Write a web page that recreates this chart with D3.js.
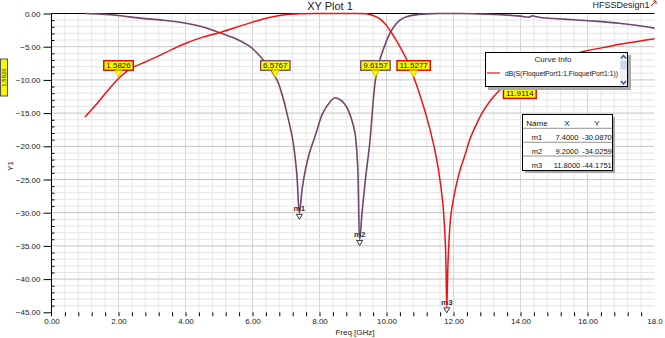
<!DOCTYPE html>
<html><head><meta charset="utf-8">
<script src="https://cdn.jsdelivr.net/npm/d3@7"></script>
<style>
html,body{margin:0;padding:0;background:#fff;}
svg{display:block;}
text{font-family:"Liberation Sans Narrow","Liberation Sans",Arial,sans-serif;}
</style></head><body>
<svg id="c" width="665" height="338"></svg>
<script>
// ---- data ----
const redFreq = [1.0,1.3,1.65,2.0,2.4,2.8,3.15,3.6,4.05,4.5,5.0,5.5,6.0,6.5,7.0,7.5,8.0,8.5,9.0,9.4,9.6,9.8,10.0,10.2,10.4,10.6,10.8,11.0,11.2,11.4,11.55,11.68,11.76,11.8,11.84,11.92,12.05,12.2,12.35,12.5,12.7,12.9,13.2,13.5,13.9,14.4,15.0,15.5,15.9,16.5,17.0,17.5,18.0];
const redDb = [-15.6,-13.9,-11.8,-9.8,-8.2,-7.3,-6.5,-5.4,-4.4,-3.6,-2.9,-2.1,-1.3,-0.6,-0.15,-0.02,0,0,0,-0.05,-0.3,-0.8,-1.8,-3.3,-5.0,-6.9,-9.4,-12.3,-15.6,-19.6,-23.5,-28.5,-35,-44.18,-37,-30.5,-26.6,-23.5,-21.2,-18.8,-16.5,-14.6,-12.5,-11.0,-9.4,-8.2,-7.0,-6.3,-5.7,-5.1,-4.6,-4.2,-3.8];
const purFreq = [1.0,1.5,2.0,2.65,3.3,3.93,4.5,5.03,5.5,5.93,6.2,6.5,6.73,6.9,7.05,7.2,7.32,7.4,7.48,7.58,7.7,7.9,8.08,8.3,8.46,8.65,8.8,8.95,9.06,9.14,9.2,9.27,9.37,9.5,9.67,9.8,9.95,10.1,10.25,10.4,10.6,10.8,11.2,11.6,12.2,13.0,13.5,14.0,14.25,14.35,14.45,14.6,15.0,15.6,16.2,17.0,17.5,18.0];
const purDb = [0,-0.1,-0.3,-0.7,-1.0,-1.4,-2.0,-2.9,-3.8,-5.0,-6.3,-8.2,-10,-12.5,-15.5,-19,-24,-30.09,-26.5,-23.5,-21,-18,-15.2,-13.4,-12.7,-13.1,-14,-15.8,-18,-23,-34.03,-30,-25,-19.5,-10,-7,-4.8,-3,-1.8,-1.0,-0.5,-0.25,-0.05,0,0,-0.1,-0.2,-0.4,-0.55,-0.35,-0.45,-0.6,-0.75,-0.95,-1.15,-1.5,-1.8,-2.2];

const xTicks = [0,2,4,6,8,10,12,14,16,18];
const yTicks = [0,-5,-10,-15,-20,-25,-30,-35,-40,-45];

// flag markers (yellow)
const flagText = ["1.5826","6.5767","9.6157","11.5277","11.9114"];
const flagFreq = [2.0,6.68,9.67,10.81,13.7];
const flagDb = [-9.6,-9.6,-9.6,-9.6,-10.9];
const flagSeries = ["red","pur","pur","red","red"];
const flagBelow = [false,false,false,false,true];

// m markers
const mName = ["m1","m2","m3"];
const mFreq = [7.4,9.2,11.8];
const mDb = [-30.0870,-34.0259,-44.1751];
const mXtxt = ["7.4000","9.2000","11.8000"];
const mYtxt = ["-30.0870","-34.0259","-44.1751"];

const legendLabel = "dB(S(FloquetPort1:1,FloquetPort1:1))";

// ---- drawing ----
const svg = d3.select("#c");
const x = d3.scaleLinear().domain([0,18]).range([51.5,654.5]);
const y = d3.scaleLinear().domain([-45,0]).range([312.3,13.5]);
const colRed = "#ee1212", colPur = "#74456a";

// grid
const g = svg.append("g");
const xMinor = d3.range(0.4,17.9,0.4);
const yMinor = d3.range(-1,-44.5,-1);
g.selectAll(".vx").data(xMinor).join("line")
  .attr("x1",d=>x(d)).attr("x2",d=>x(d)).attr("y1",y(0)).attr("y2",y(-45))
  .attr("stroke",d=>Math.abs(d/2-Math.round(d/2))<1e-6?"#d4d4d4":"#e6e6e6").attr("stroke-width",1);
g.selectAll(".hy").data(yMinor).join("line")
  .attr("x1",x(0)).attr("x2",x(18)).attr("y1",d=>y(d)).attr("y2",d=>y(d))
  .attr("stroke",d=>Math.abs(d%5)<1e-6?"#c4c4c4":"#e4e4e4").attr("stroke-width",1);

// top border
svg.append("line").attr("x1",x(0)).attr("x2",x(18)).attr("y1",y(0)).attr("y2",y(0)).attr("stroke","#000");

// y axis
const yAx = svg.append("g").attr("transform",`translate(${x(0)},0)`)
  .call(d3.axisLeft(y).tickValues(yTicks).tickSize(8).tickSizeOuter(0).tickPadding(3).tickFormat(d3.format(".2f")));
yAx.select(".domain").attr("stroke","#000").attr("d",`M0,${y(0)}V${y(-45)+4}`);
yAx.selectAll("text").attr("font-size",8).attr("fill","#222");
const yMin = svg.append("g").attr("transform",`translate(${x(0)},0)`)
  .call(d3.axisRight(y).tickValues(yMinor.filter(d=>d%5!==0)).tickSize(3).tickFormat(""));
yMin.select(".domain").remove();

// x axis
const xMinAx = svg.append("g").attr("transform",`translate(0,${y(-45)})`)
  .call(d3.axisBottom(x).tickValues(xMinor).tickSize(4).tickFormat(""));
xMinAx.select(".domain").remove();
const xAx = svg.append("g").attr("transform",`translate(0,${y(-45)})`)
  .call(d3.axisBottom(x).tickValues(xTicks).tickSize(0).tickPadding(6).tickFormat((d,i)=>i===xTicks.length-1?"18.0":d3.format(".2f")(d)));
xAx.select(".domain").remove();
xAx.selectAll("text").attr("font-size",8).attr("fill","#222");

// curves
const line = d3.line().x(d=>x(d[0])).y(d=>y(d[1])).curve(d3.curveCatmullRom.alpha(0.5));
svg.append("path").datum(purFreq.map((f,i)=>[f,purDb[i]])).attr("d",line)
  .attr("fill","none").attr("stroke",colPur).attr("stroke-width",1.6);
svg.append("path").datum(redFreq.map((f,i)=>[f,redDb[i]])).attr("d",line)
  .attr("fill","none").attr("stroke",colRed).attr("stroke-width",1.5);

// m markers
mName.forEach((n,i)=>{
  const px=x(mFreq[i]), py=y(mDb[i]);
  svg.append("text").attr("x",px).attr("y",py-2).attr("text-anchor","middle")
    .attr("font-size",8).attr("font-weight","bold").attr("fill","#333").text(n);
  svg.append("path").attr("d",`M${px-3},${py+1}L${px+3},${py+1}L${px},${py+6}Z`)
    .attr("fill","none").attr("stroke","#333").attr("stroke-width",1);
});

// flags
flagText.forEach((t,i)=>{
  const px=x(flagFreq[i]), py=y(flagDb[i]);
  const bc = flagSeries[i]==="red"?"#e00000":"#6b3b5e";
  const gg = svg.append("g");
  const rect = gg.append("rect");
  const tri = gg.append("path");
  const tx = gg.append("text").attr("font-size",8).attr("fill","#111").text(t);
  const w = tx.node().getComputedTextLength()+5, h=9.5;
  let bx, by;
  if(!flagBelow[i]){ bx=px-w/2; by=py-7-h;
    tri.attr("d",`M${px-4},${by+h}L${px+4},${by+h}L${px},${py}Z`);
  } else { bx=px-7; by=py+3;
    tri.attr("d",`M${px-3},${by}L${px+3},${by}L${px},${py}Z`);
  }
  rect.attr("x",bx).attr("y",by).attr("width",w).attr("height",h)
    .attr("fill","#f8f800").attr("stroke",bc).attr("stroke-width",flagSeries[i]==="red"?1.4:1.2);
  tri.attr("fill","#f8f800").attr("stroke","#d0a000").attr("stroke-width",0.6);
  tx.attr("x",bx+2.5).attr("y",by+7.6);
});

// legend box
const lg = svg.append("g");
lg.append("rect").attr("x",488).attr("y",55).attr("width",143).attr("height",35).attr("fill","#a8a8a8");
lg.append("rect").attr("x",485.5).attr("y",52.5).attr("width",142).attr("height",34).attr("fill","#fff").attr("stroke","#000").attr("stroke-width",1);
lg.append("text").attr("x",553).attr("y",62).attr("text-anchor","middle").attr("font-size",8).attr("fill","#222").text("Curve Info");
lg.append("line").attr("x1",487).attr("x2",500).attr("y1",73).attr("y2",73).attr("stroke",colRed).attr("stroke-width",1.2);
lg.append("text").attr("x",505).attr("y",75.5).attr("font-size",7.5).attr("fill","#111")
  .attr("textLength",113).attr("lengthAdjust","spacingAndGlyphs").text(legendLabel);
lg.append("rect").attr("x",620).attr("y",53).attr("width",7).attr("height",33).attr("fill","#f0f0f0");
lg.append("rect").attr("x",620.5).attr("y",61).attr("width",6).attr("height",8).attr("fill","#c8d8f0");
lg.append("path").attr("d","M621,58.5L623.5,55.5L626,58.5").attr("fill","none").attr("stroke","#2050c0").attr("stroke-width",1.2);
lg.append("path").attr("d","M621,81L623.5,84L626,81").attr("fill","none").attr("stroke","#2050c0").attr("stroke-width",1.2);

// marker table
const tb = svg.append("g");
tb.append("rect").attr("x",525).attr("y",117).attr("width",90).attr("height",56).attr("fill","#a8a8a8");
tb.append("rect").attr("x",522.5).attr("y",114.5).attr("width",90).attr("height",56).attr("fill","#fff").attr("stroke","#000");
const rowY = [123.5,137.5,151.5,165];
[128.3,142.3,156].forEach(ly=>tb.append("line").attr("x1",523).attr("x2",612).attr("y1",ly).attr("y2",ly).attr("stroke","#777").attr("stroke-width",0.8));
const colX = [537,567,597];
["Name","X","Y"].forEach((h,j)=>tb.append("text").attr("x",colX[j]).attr("y",rowY[0]+2.5).attr("text-anchor","middle").attr("font-size",8).attr("fill","#111").text(h));
mName.forEach((n,i)=>{
  [n,mXtxt[i],mYtxt[i]].forEach((v,j)=>tb.append("text").attr("x",colX[j]).attr("y",rowY[i+1]+2.5).attr("text-anchor","middle").attr("font-size",7.5).attr("fill","#111").text(v));
});

// titles
svg.append("text").attr("x",330).attr("y",10).attr("text-anchor","middle").attr("font-size",11).attr("fill","#222").text("XY Plot 1");
svg.append("text").attr("x",621).attr("y",8).attr("text-anchor","middle").attr("font-size",9).attr("fill","#222").text("HFSSDesign1");
svg.append("path").attr("d","M651,6L656,1M653,1L656,1L656,4").attr("fill","none").attr("stroke","#d02020").attr("stroke-width",1);
svg.append("text").attr("transform","translate(13,166) rotate(-90)").attr("text-anchor","middle").attr("font-size",8).attr("fill","#222").text("Y1");
svg.append("text").attr("x",355).attr("y",335).attr("text-anchor","middle").attr("font-size",8).attr("fill","#222").text("Freq [GHz]");
// left yellow label
svg.append("rect").attr("x",0.5).attr("y",59).attr("width",7).attr("height",37).attr("fill","#f8f800").attr("stroke","#555");
svg.append("text").attr("transform","translate(6,77.5) rotate(-90)").attr("text-anchor","middle").attr("font-size",6).attr("fill","#222").text("1.5826");
</script>
</body></html>
